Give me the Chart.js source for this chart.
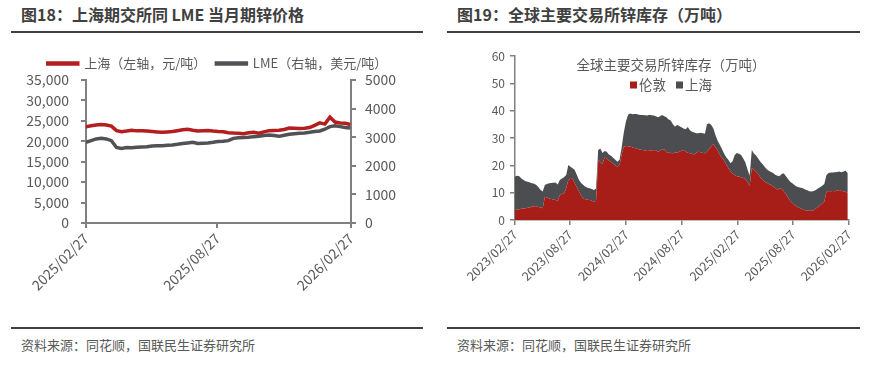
<!DOCTYPE html>
<html>
<head>
<meta charset="utf-8">
<script src="https://cdn.jsdelivr.net/npm/chart.js@4.4.1/dist/chart.umd.min.js"></script>
<style>
  body { margin: 0; width: 888px; height: 368px; background: #fff; position: relative; overflow: hidden;
         font-family: "Noto Sans CJK SC", "Noto Sans", sans-serif; }
  .title { position: absolute; top: 4px; font-size: 16px; font-weight: bold; color: #404040; line-height: 20px; white-space: nowrap; }
  .rule { position: absolute; height: 2px; background: #404040; }
  .src { position: absolute; top: 336px; font-size: 13px; color: #595959; line-height: 18px; white-space: nowrap; }
  .box { position: absolute; top: 36px; width: 444px; height: 290px; }
</style>
</head>
<body>
<div class="title" style="left:21px">图18：上海期交所同 LME 当月期锌价格</div>
<div class="rule" style="left:11px;width:412px;top:31px"></div>
<div class="box" style="left:0"><canvas id="price" width="444" height="290"></canvas></div>
<div class="rule" style="left:11px;width:412px;top:327px"></div>
<div class="src" style="left:21px">资料来源：同花顺，国联民生证券研究所</div>

<div class="title" style="left:457px">图19：全球主要交易所锌库存（万吨）</div>
<div class="rule" style="left:447px;width:413px;top:31px"></div>
<div class="box" style="left:444px"><canvas id="stock" width="444" height="290"></canvas></div>
<div class="rule" style="left:447px;width:413px;top:327px"></div>
<div class="src" style="left:457px">资料来源：同花顺，国联民生证券研究所</div>

<script>
// ---- 图18 data: weekly, starting 2025-02-27 ----
const priceStart = '2025-02-27';
const priceTicks = ['2025/02/27', '2025/08/27', '2026/02/27'];
const shfePrice = [
  23580, 23800, 24000, 24100, 24000, 23700, 22600, 22350, 22500, 22700,
  22550, 22600, 22500, 22400, 22300, 22200, 22300, 22400, 22600, 22800,
  22950, 22700, 22500, 22600, 22650, 22500, 22400, 22350, 22100, 22000,
  21950, 21850, 22100, 22200, 22000, 22300, 22600, 22650, 22700, 22900,
  23250, 23200, 23150, 23200, 23350, 23900, 24500, 24200, 25900, 24700,
  24500, 24400, 24100
];
const lmePrice = [
  2820, 2880, 2940, 2960, 2940, 2880, 2640, 2610, 2640, 2630,
  2650, 2660, 2670, 2690, 2700, 2700, 2720, 2730, 2750, 2780,
  2800, 2820, 2780, 2790, 2800, 2820, 2850, 2860, 2880, 2960,
  2980, 2990, 3000, 3020, 3030, 3060, 3080, 3060, 3030, 3070,
  3100, 3120, 3135, 3150, 3170, 3200, 3220, 3280, 3370, 3400,
  3370, 3340, 3320
];

// ---- 图19 data: weekly, starting 2023-02-27 (万吨) ----
const stockStart = '2023-02-27';
const stockTicks = ['2023/02/27', '2023/08/27', '2024/02/27', '2024/08/27', '2025/02/27', '2025/08/27', '2026/02/27'];
const londonStock = [
  3.7, 3.8, 3.9, 4.1, 4.2, 4.3, 4.5, 4.6, 4.9, 5.0,
  5.0, 4.8, 4.6, 4.3, 8.5, 8.2, 7.9, 7.7, 7.5, 7.3,
  7.0, 9.1, 9.5, 9.8, 11.6, 14.6, 15.0, 15.2, 13.4, 12.0,
  10.4, 9.0, 7.9, 7.6, 7.4, 7.3, 7.0, 6.7, 7.0, 22.0,
  21.2, 20.5, 22.9, 22.5, 21.8, 21.3, 20.6, 20.0, 19.5, 20.1,
  24.0, 26.8, 27.1, 27.0, 26.8, 26.6, 26.3, 26.2, 25.9, 25.7,
  25.6, 25.4, 25.6, 25.5, 25.3, 25.6, 25.5, 25.0, 25.3, 25.9,
  25.8, 24.8, 24.8, 24.5, 24.4, 24.7, 24.6, 25.0, 25.3, 25.6,
  25.0, 24.6, 24.4, 24.2, 24.0, 24.6, 25.0, 24.8, 24.5, 24.4,
  25.0, 26.0, 27.0, 27.8, 26.5, 25.4, 24.0, 22.8, 21.8, 20.5,
  19.0, 17.8, 17.0, 16.5, 16.0, 15.9, 15.6, 15.4, 15.0, 13.8,
  12.5, 18.9, 18.5, 17.7, 16.8, 15.6, 14.7, 14.0, 13.6, 13.2,
  12.8, 12.3, 11.7, 11.0, 11.6, 11.3, 10.5, 9.5, 8.2, 7.0,
  6.2, 5.5, 5.0, 4.6, 4.2, 3.8, 3.6, 3.5, 3.4, 3.4,
  3.6, 4.2, 4.8, 5.4, 6.0, 6.8, 10.2, 10.6, 10.5, 10.6,
  10.5, 10.8, 11.0, 10.6, 10.5, 10.2, 10.0
];
const shanghaiStock = [
  12.2, 12.4, 12.1, 11.1, 10.4, 9.9, 9.5, 9.1, 8.5, 8.3,
  7.8, 7.2, 6.4, 6.1, 4.3, 5.0, 5.5, 5.8, 6.1, 6.4,
  6.0, 5.5, 5.7, 5.8, 4.9, 5.5, 4.5, 3.7, 4.9, 4.5,
  4.2, 4.5, 4.9, 4.6, 4.4, 4.3, 4.3, 4.3, 4.5, 3.6,
  5.0, 4.0, 2.3, 2.5, 2.2, 2.2, 2.2, 2.0, 1.8, 1.9,
  2.5, 5.2, 8.9, 11.5, 12.2, 12.1, 12.5, 12.6, 12.6, 12.7,
  12.8, 12.9, 12.6, 13.0, 13.0, 12.6, 12.5, 12.6, 12.7, 12.5,
  12.2, 12.8, 12.0, 11.9, 10.6, 9.4, 10.2, 9.4, 8.6, 7.9,
  8.2, 9.4, 8.4, 8.1, 8.0, 7.1, 6.7, 7.1, 7.2, 7.2,
  10.0, 9.4, 7.8, 5.7, 4.5, 3.6, 3.5, 3.2, 2.5, 2.5,
  3.0, 3.0, 4.5, 7.3, 8.5, 8.3, 8.2, 7.1, 6.0, 4.7,
  3.7, 6.7, 5.8, 5.9, 5.7, 5.7, 5.8, 5.5, 5.0, 4.8,
  4.8, 4.9, 4.9, 5.2, 4.4, 5.5, 6.6, 6.5, 6.8, 7.0,
  7.2, 7.3, 7.3, 7.4, 7.6, 7.8, 7.6, 7.4, 7.1, 7.0,
  7.0, 6.8, 6.7, 6.6, 6.5, 6.4, 6.3, 6.6, 6.9, 6.8,
  7.0, 6.8, 6.7, 6.9, 7.2, 7.8, 7.1
];

const FONT = '"Noto Sans CJK SC", "Noto Sans", sans-serif';
const TEXT = '#595959';
const AXIS = '#808080';
const RED = '#B41E1E';
const GREY = '#505256';
const AREA_RED = '#A61E17';
const AREA_GREY = '#4C4D50';

// days between two dates, 'YYYY-MM-DD' or 'YYYY/MM/DD'
function dayOf(d, start) {
  const p = s => { const a = s.split(/[-\/]/).map(Number); return Date.UTC(a[0], a[1] - 1, a[2]); };
  return Math.round((p(d) - p(start)) / 86400000);
}
const weekly = arr => arr.map((v, i) => ({ x: i * 7, y: v }));

// ---------- 图18 ----------
new Chart(document.getElementById('price'), {
  type: 'line',
  data: {
    datasets: [
      { label: '上海（左轴，元/吨）', data: weekly(shfePrice), yAxisID: 'y',
        borderColor: RED, backgroundColor: RED, borderWidth: 3.5, pointRadius: 0 },
      { label: 'LME（右轴，美元/吨）', data: weekly(lmePrice), yAxisID: 'y1',
        borderColor: GREY, backgroundColor: GREY, borderWidth: 3.5, pointRadius: 0 }
    ]
  },
  options: {
    responsive: false,
    animation: false,
    layout: { padding: { top: 11, right: 9, left: 0, bottom: 0 } },
    plugins: {
      legend: {
        position: 'top',
        labels: { boxWidth: 30, boxHeight: 1, padding: 10, color: TEXT, font: { family: FONT, size: 13 } }
      },
      tooltip: { enabled: false }
    },
    scales: {
      x: {
        type: 'linear', min: 0, max: dayOf(priceTicks[2], priceStart),
        afterBuildTicks: a => { a.ticks = priceTicks.map(t => ({ value: dayOf(t, priceStart) })); },
        ticks: { callback: (v, i) => priceTicks[i], minRotation: 45, maxRotation: 45, autoSkip: false,
                 color: TEXT, font: { family: FONT, size: 14 }, padding: 2 },
        grid: { drawOnChartArea: false, tickLength: 5, color: AXIS, lineWidth: 2 },
        border: { color: AXIS, width: 2 },
        afterFit: s => { s.height = 103; }
      },
      y: {
        position: 'left', min: 0, max: 35000,
        ticks: { stepSize: 5000, callback: v => v.toLocaleString('en-US'), color: TEXT,
                 font: { family: FONT, size: 14 }, padding: 12 },
        grid: { drawOnChartArea: false, tickLength: 5, color: AXIS, lineWidth: 2 },
        border: { color: AXIS, width: 2 },
        afterFit: s => { s.width = 86; }
      },
      y1: {
        position: 'right', min: 0, max: 5000,
        ticks: { stepSize: 1000, callback: v => String(v), color: TEXT,
                 font: { family: FONT, size: 14 }, padding: 9 },
        grid: { drawOnChartArea: false, tickLength: 5, color: AXIS, lineWidth: 2 },
        border: { color: AXIS, width: 2 },
        afterFit: s => { s.width = 84; }
      }
    }
  }
});

// ---------- 图19 ----------
// title + legend drawn inside the plot area
const innerLegend = {
  id: 'innerLegend',
  afterDraw(chart, args, opts) {
    const ctx = chart.ctx;
    ctx.save();
    ctx.fillStyle = TEXT;
    ctx.textBaseline = 'middle';
    ctx.textAlign = 'center';
    ctx.font = `${opts.size}px ${FONT}`;
    ctx.fillText(opts.text, opts.x, opts.titleY);

    const items = chart.data.datasets.map(d => ({ text: d.label, color: d.backgroundColor }));
    const box = 7, gap = 2, space = 10;
    const widths = items.map(it => box + gap + ctx.measureText(it.text).width);
    const total = widths.reduce((a, b) => a + b, 0) + space * (items.length - 1);
    let x = opts.x - total / 2;
    ctx.textAlign = 'left';
    items.forEach((it, i) => {
      ctx.fillStyle = it.color;
      ctx.fillRect(x, opts.legendY - box / 2, box, box);
      ctx.fillStyle = TEXT;
      ctx.fillText(it.text, x + box + gap, opts.legendY);
      x += widths[i] + space;
    });
    ctx.restore();
  }
};

new Chart(document.getElementById('stock'), {
  type: 'line',
  data: {
    datasets: [
      { label: '伦敦', data: weekly(londonStock), backgroundColor: AREA_RED, borderColor: AREA_RED,
        borderWidth: 0, pointRadius: 0, fill: 'origin' },
      { label: '上海', data: weekly(shanghaiStock), backgroundColor: AREA_GREY, borderColor: AREA_GREY,
        borderWidth: 0, pointRadius: 0, fill: '-1' }
    ]
  },
  options: {
    responsive: false,
    animation: false,
    layout: { padding: { top: 20, right: 39, left: 0, bottom: 0 } },
    plugins: {
      legend: { display: false },
      tooltip: { enabled: false },
      innerLegend: { text: '全球主要交易所锌库存（万吨）', size: 13.5, x: 227, titleY: 29, legendY: 49 }
    },
    scales: {
      x: {
        type: 'linear', min: 0, max: dayOf(stockTicks[6], stockStart),
        afterBuildTicks: a => { a.ticks = stockTicks.map(t => ({ value: dayOf(t, stockStart) })); },
        ticks: { callback: (v, i) => stockTicks[i], minRotation: 45, maxRotation: 45, autoSkip: false,
                 color: TEXT, font: { family: FONT, size: 12.5 }, padding: 2 },
        grid: { drawOnChartArea: false, tickLength: 5, color: AXIS, lineWidth: 1.5 },
        border: { color: AXIS, width: 1.5 },
        afterFit: s => { s.height = 106; }
      },
      y: {
        stacked: true, min: 0, max: 60,
        ticks: { stepSize: 10, color: TEXT, font: { family: FONT, size: 12 }, padding: 5 },
        grid: { drawOnChartArea: false, tickLength: 5, color: AXIS, lineWidth: 1.5 },
        border: { color: AXIS, width: 1.5 },
        afterFit: s => { s.width = 71; }
      }
    }
  },
  plugins: [innerLegend]
});
</script>
</body>
</html>
